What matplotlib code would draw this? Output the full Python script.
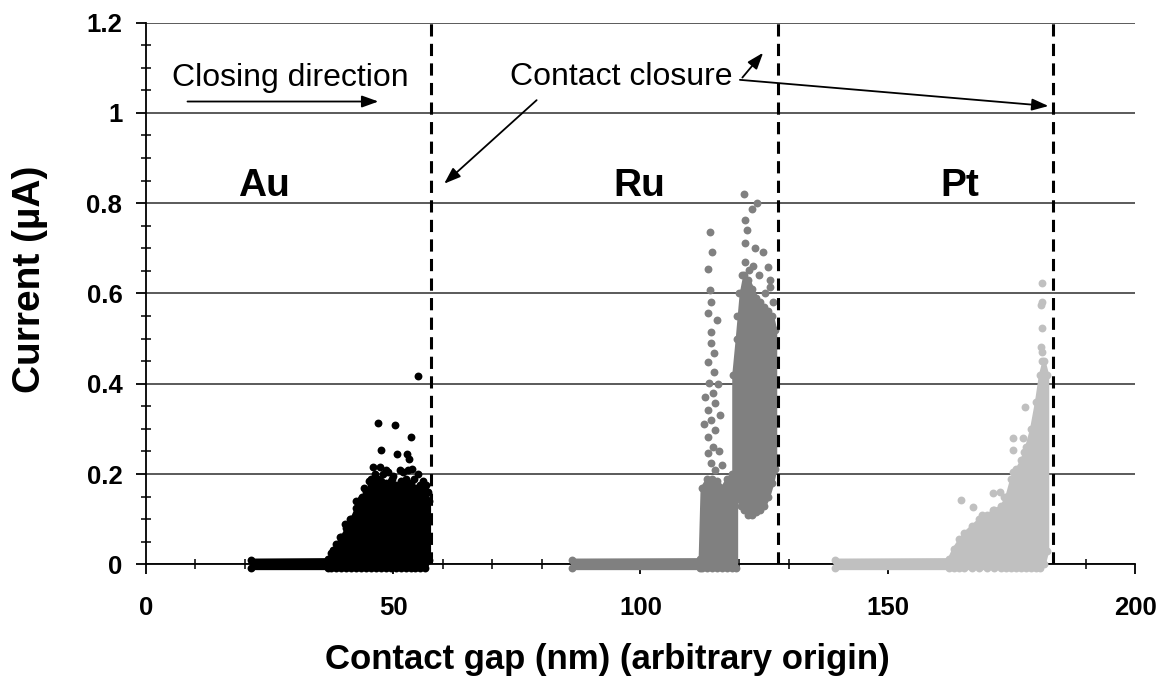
import matplotlib
matplotlib.use("Agg")
import matplotlib.pyplot as plt
from matplotlib.ticker import MultipleLocator, FixedLocator, FixedFormatter

plt.rcParams['font.family'] = ['Liberation Sans', 'DejaVu Sans']

# Au: outline of the saturated cloud (gap, lower, upper current) + stray readings
au_gap = [21.3, 36.8, 37.5, 38.5, 39.5, 40.5, 41.5, 42.5, 43.5, 44.5, 45.5, 46.5,
          47.5, 48.5, 49.5, 50.5, 51.5, 52.5, 53.5, 54.5, 55.5, 56.5, 57.2]
au_low = [-0.008, -0.008, -0.008, -0.008, -0.008, -0.008, -0.008, -0.008, -0.008,
          -0.008, -0.008, -0.008, -0.008, -0.008, -0.008, -0.008, -0.008, -0.008,
          -0.008, -0.008, -0.008, -0.008, 0.01]
au_high = [0.01, 0.011, 0.025, 0.045, 0.06, 0.08, 0.10, 0.125, 0.145, 0.16, 0.175,
           0.18, 0.185, 0.18, 0.185, 0.175, 0.185, 0.19, 0.18, 0.17, 0.175, 0.165, 0.14]
au_pt_gap = [55.1, 47.0, 50.4, 53.5, 47.5, 50.8, 52.8, 53.2, 45.9, 47.3, 48.6, 51.4,
             53.0, 53.7, 45.6, 47.0, 49.7, 56.6, 43.6, 41.3, 39.2, 37.9, 44.0, 45.0,
             46.3, 48.0, 49.0, 50.0, 52.0, 54.2, 55.0, 56.0, 57.1, 42.4, 40.3]
au_pt_cur = [0.417, 0.314, 0.308, 0.283, 0.253, 0.244, 0.244, 0.233, 0.216, 0.216,
             0.209, 0.209, 0.209, 0.21, 0.19, 0.19, 0.19, 0.176, 0.15, 0.10, 0.061,
             0.032, 0.17, 0.185, 0.2, 0.2, 0.205, 0.195, 0.205, 0.19, 0.2, 0.185, 0.16,
             0.14, 0.09]

# Ru: baseline + lower block, then the tall column just before closure
ru_gap = [86.2, 112.0, 112.4, 113.5, 114.5, 115.5, 116.5, 117.5, 118.5, 119.3]
ru_low = [-0.008, -0.008, -0.008, -0.008, -0.008, -0.008, -0.008, -0.008, -0.008, -0.008]
ru_high = [0.01, 0.011, 0.17, 0.19, 0.19, 0.185, 0.17, 0.19, 0.2, 0.2]
ru_col_gap = [118.8, 119.5, 120.3, 121.0, 121.8, 122.6, 123.4, 124.2, 125.0, 125.8, 126.6, 127.2]
ru_col_low = [0.19, 0.15, 0.13, 0.12, 0.11, 0.11, 0.115, 0.12, 0.13, 0.15, 0.18, 0.21]
ru_col_high = [0.42, 0.50, 0.60, 0.64, 0.63, 0.61, 0.59, 0.58, 0.57, 0.56, 0.55, 0.52]
ru_pt_gap = [114.1, 114.4, 113.7, 114.0, 114.2, 113.7, 115.4, 114.2, 114.2, 114.8,
             113.6, 114.8, 113.8, 114.6, 115.0, 113.6, 114.2, 115.0, 113.6, 114.6,
             113.6, 114.2, 115.0, 115.6, 116.0, 115.8, 116.4, 112.9, 113.0,
             121.0, 122.5, 123.5, 121.1, 121.5, 121.1, 123.1, 124.8, 121.1, 121.9,
             125.8, 126.2, 126.2, 120.6, 122.8, 124.0, 125.2, 126.8, 119.5, 120.0]
ru_pt_cur = [0.737, 0.692, 0.653, 0.607, 0.582, 0.556, 0.541, 0.515, 0.49, 0.467,
             0.449, 0.427, 0.401, 0.379, 0.357, 0.342, 0.32, 0.298, 0.283, 0.26,
             0.246, 0.224, 0.209, 0.40, 0.33, 0.25, 0.22, 0.31, 0.37,
             0.82, 0.788, 0.80, 0.763, 0.74, 0.711, 0.70, 0.692, 0.67, 0.652,
             0.659, 0.63, 0.615, 0.64, 0.66, 0.64, 0.6, 0.58, 0.55, 0.6]

# Pt
pt_gap = [139.3, 162.3, 163.3, 164.5, 165.5, 167.0, 168.5, 170.0, 171.5, 173.0, 174.0,
          175.0, 176.0, 177.0, 178.0, 179.0, 180.0, 180.8, 181.5, 182.2]
pt_low = [-0.008, -0.008, -0.008, -0.008, -0.008, -0.008, -0.008, -0.008, -0.008,
          -0.008, -0.008, -0.008, -0.008, -0.008, -0.008, -0.008, -0.008, -0.008, 0.0, 0.03]
pt_high = [0.01, 0.011, 0.035, 0.055, 0.07, 0.085, 0.10, 0.11, 0.12, 0.13, 0.15,
           0.19, 0.21, 0.23, 0.26, 0.30, 0.36, 0.42, 0.45, 0.42]
pt_pt_gap = [181.1, 181.1, 181.0, 181.1, 180.9, 181.2, 181.1, 177.8, 175.4, 177.4,
             175.4, 177.6, 177.6, 175.4, 164.9, 167.3, 171.3, 172.7, 171.3, 169.0, 173.5]
pt_pt_cur = [0.622, 0.582, 0.574, 0.523, 0.482, 0.45, 0.47, 0.349, 0.279, 0.279,
             0.253, 0.249, 0.224, 0.205, 0.142, 0.128, 0.157, 0.161, 0.12, 0.11, 0.15]

closure_gap = [57.6, 127.8, 183.5]
metals = ['Au', 'Ru', 'Pt']
metal_label_gap = [23.9, 99.7, 164.6]

AU_C = '#000000'
RU_C = '#808080'
PT_C = '#c0c0c0'
DOT = 32


def draw_cloud(ax, gap, low, high, color):
    ax.fill_between(gap, low, high, color=color, lw=2.5, edgecolor=color, zorder=3, clip_on=False)
    ax.scatter(gap, high, s=DOT, color=color, lw=0, zorder=3, clip_on=False)
    ax.scatter(gap, low, s=DOT, color=color, lw=0, zorder=3, clip_on=False)


fig = plt.figure(figsize=(11.64, 6.86), dpi=100)
ax = fig.add_axes([0.1254, 0.1774, 0.8497, 0.7898])

draw_cloud(ax, au_gap, au_low, au_high, AU_C)
ax.scatter(au_pt_gap, au_pt_cur, s=DOT, color=AU_C, lw=0, zorder=3)

draw_cloud(ax, ru_gap, ru_low, ru_high, RU_C)
draw_cloud(ax, ru_col_gap, ru_col_low, ru_col_high, RU_C)
ax.scatter(ru_pt_gap, ru_pt_cur, s=DOT, color=RU_C, lw=0, zorder=3)

draw_cloud(ax, pt_gap, pt_low, pt_high, PT_C)
ax.scatter(pt_pt_gap, pt_pt_cur, s=DOT, color=PT_C, lw=0, zorder=3)

for g in closure_gap:
    ax.axvline(g, color='black', lw=2.2, linestyle=(0, (4, 2.4)), zorder=4)

ax.set_xlim(0, 200)
ax.set_ylim(0, 1.2)
ax.xaxis.set_major_locator(MultipleLocator(50))
ax.xaxis.set_minor_locator(MultipleLocator(10))
ax.yaxis.set_major_locator(FixedLocator([0, 0.2, 0.4, 0.6, 0.8, 1.0, 1.2]))
ax.yaxis.set_major_formatter(FixedFormatter(['0', '0.2', '0.4', '0.6', '0.8', '1', '1.2']))
ax.yaxis.set_minor_locator(MultipleLocator(0.05))

ax.grid(axis='y', which='major', color='#5a5a5a', lw=1.4, zorder=1)
ax.set_axisbelow(True)
for side in ['top', 'right']:
    ax.spines[side].set_visible(False)
for side in ['left', 'bottom']:
    ax.spines[side].set_linewidth(1.3)
    ax.spines[side].set_zorder(2.5)

ax.tick_params(which='major', direction='out', length=7, width=1.3, labelsize=18.5)
ax.tick_params(which='minor', direction='inout', length=7, width=1.1)
ax.tick_params(axis='y', which='major', pad=10)
ax.tick_params(axis='x', which='major', pad=16)
for lab in ax.get_xticklabels() + ax.get_yticklabels():
    lab.set_fontweight('bold')

ax.set_xlabel('Contact gap (nm) (arbitrary origin)', fontsize=25, fontweight='bold')
ax.xaxis.set_label_coords(0.4667, -0.1766)
ax.xaxis.label.set_verticalalignment('center')
ax.set_ylabel('Current (µA)', fontsize=28, fontweight='bold')
ax.yaxis.set_label_coords(-0.1173, 0.5266)
ax.yaxis.label.set_verticalalignment('center')

for name, g in zip(metals, metal_label_gap):
    ax.text(g, 0.816, name, fontsize=28, fontweight='bold', ha='center', va='baseline', zorder=6)

ax.text(5.3, 1.059, 'Closing direction', fontsize=23, ha='left', va='baseline', zorder=6)
ax.text(73.7, 1.061, 'Contact closure', fontsize=23, ha='left', va='baseline', zorder=6)

arrow_kw = dict(arrowstyle='-|>,head_length=0.5,head_width=0.18', color='black',
                lw=1.3, mutation_scale=20, shrinkA=0, shrinkB=0)
arrows = [((8.4, 1.025), (47.0, 1.025)),
          ((79.0, 1.028), (60.3, 0.843)),
          ((120.6, 1.078), (124.8, 1.133)),
          ((120.1, 1.073), (182.5, 1.015))]
for start, end in arrows:
    ax.annotate('', xy=end, xytext=start, arrowprops=arrow_kw, zorder=6)

fig.savefig('out.png', dpi=100)
